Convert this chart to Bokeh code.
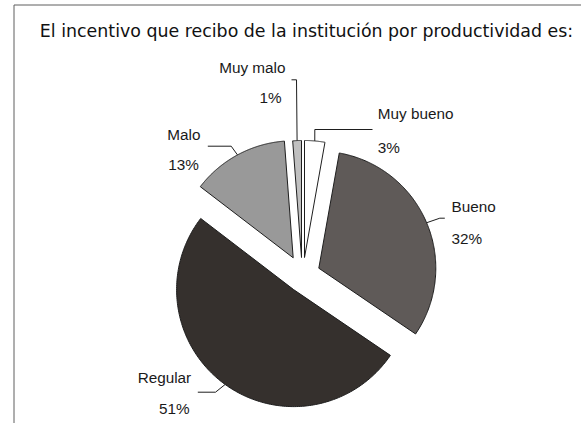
import numpy as np
from bokeh.plotting import figure
from bokeh.models import Range1d, ColumnDataSource
from bokeh.core.properties import value
from bokeh.embed import file_html
from bokeh.resources import INLINE

# ---------------- data ----------------
title_text = "El incentivo que recibo de la institución por productividad es:"
categories = ["Muy bueno", "Bueno", "Regular", "Malo", "Muy malo"]
values = [2.8, 31.7, 50.9, 13.4, 1.2]          # percent
pct_labels = [f"{round(v)}%" for v in values]

# ---------------- style / layout ----------------
colors = ["#ffffff", "#5f5a58", "#35302d", "#999999", "#c0c0c0"]
W, H = 581, 423
CENTER = (302.5, 277.0)      # screen px
RADIUS = 117.0
TEXT_SHIFT = -1.5            # svg "middle" sits at x-height centre
# per-slice explode offsets (screen px, dx, dy)
explode = [(1.5, -20.0), (15.8, -9.3), (-9.4, 12.1), (-9.8, -19.7), (-1.5, -20.0)]
# label layout: name x, name y (middle), pct x, pct y (middle), align
label_layout = [
    (377.3, 114.6, 377.3, 148.0, "left"),
    (451.0, 207.3, 451.0, 239.6, "left"),
    (190.7, 378.0, 189.0, 409.6, "right"),
    (200.0, 135.3, 198.3, 165.3, "right"),
    (285.0, 68.0, 281.0, 98.6, "right"),
]
# leader lines: outer end, elbow (screen px); inner end computed on arc
leaders = [
    ((372.0, 129.0), (314.3, 129.0)),
    ((444.3, 217.7), (439.3, 217.7)),
    ((197.3, 391.7), (215.0, 391.7)),
    ((207.3, 145.7), (230.7, 145.7)),
    ((291.0, 79.3), (296.0, 79.3)),
]

def DX(sx):
    return sx

def DY(sy):
    return H - sy

p = figure(width=W, height=H, x_range=Range1d(0, W), y_range=Range1d(0, H),
           x_axis_type=None, y_axis_type=None, toolbar_location=None,
           output_backend="svg", min_border=0, outline_line_color=None,
           background_fill_color="white", border_fill_color="white")
p.grid.visible = False

# frame lines (left and top)
p.line(x=[13.5, 13.5, W], y=[0, DY(4.5), DY(4.5)], line_color="#5e5e5e", line_width=1)

# slices
total = sum(values)
cum = np.cumsum([0] + values) / total * 360.0
xs, ys, apexes = [], [], []
for i, v in enumerate(values):
    a0, a1 = np.radians(cum[i]), np.radians(cum[i + 1])
    ax = CENTER[0] + explode[i][0]
    ay = CENTER[1] + explode[i][1]
    apexes.append((ax, ay))
    t = np.linspace(a0, a1, 200)
    px = np.concatenate([[ax], ax + RADIUS * np.sin(t)])
    py = np.concatenate([[ay], ay - RADIUS * np.cos(t)])
    xs.append(list(DX(px)))
    ys.append(list(DY(py)))

src = ColumnDataSource(dict(xs=xs, ys=ys, color=colors, cat=categories))
p.patches("xs", "ys", source=src, fill_color="color", line_color="#1e1e1e", line_width=1)

# leader lines
for i, v in enumerate(values):
    bis = np.radians((cum[i] + cum[i + 1]) / 2)
    ax, ay = apexes[i]
    arc = (ax + RADIUS * np.sin(bis), ay - RADIUS * np.cos(bis))
    (ex, ey), (bx, by) = leaders[i]
    p.line(x=[DX(ex), DX(bx), DX(arc[0])], y=[DY(ey), DY(by), DY(arc[1])],
           line_color="#1e1e1e", line_width=1)

# labels
for align in ("left", "right"):
    tx, ty, tt = [], [], []
    for i, cat in enumerate(categories):
        nx, ny, qx, qy, al = label_layout[i]
        if al != align:
            continue
        tx += [DX(nx), DX(qx)]
        ty += [DY(ny + TEXT_SHIFT), DY(qy + TEXT_SHIFT)]
        tt += [cat, pct_labels[i]]
    p.text(x=tx, y=ty, text=tt, text_align=align, text_baseline="middle",
           text_font=value("Liberation Sans"), text_font_size="15.3px", text_color="#1a1a1a")

# title
p.text(x=[DX(306.0)], y=[DY(31.8 + TEXT_SHIFT)], text=[title_text], text_align="center",
       text_baseline="middle", text_font=value("DejaVu Sans"),
       text_font_size="17.4px", text_color="#111111")

open("out.html", "w").write(file_html(p, INLINE))
